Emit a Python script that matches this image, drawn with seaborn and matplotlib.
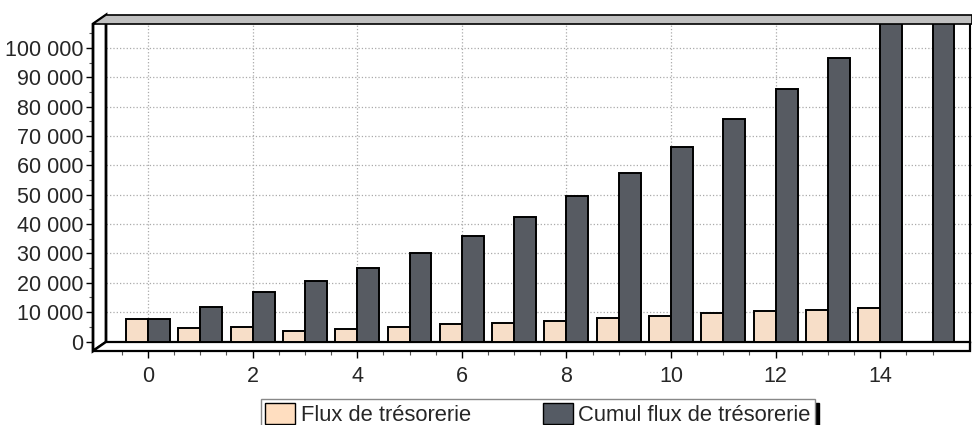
import numpy as np
import pandas as pd
import matplotlib
matplotlib.use("Agg")
import matplotlib.pyplot as plt
import seaborn as sns
from matplotlib.patches import Polygon, Patch
from matplotlib.ticker import FuncFormatter, FixedLocator

sns.set_style("white")
plt.rcParams['font.family'] = ['Liberation Sans', 'DejaVu Sans']

periodes = list(range(16))
flux = [7500, 4500, 4800, 3600, 4300, 5000, 5900, 6400, 7100, 8000,
        8600, 9600, 10300, 10900, 11500, 0]
cumul = [7500, 11900, 17000, 20700, 25000, 30000, 35900, 42400, 49600, 57400,
         66400, 75700, 85900, 96700, 108400, 108400]
series = ["Flux de trésorerie", "Cumul flux de trésorerie"]
couleurs = ["#FFDEC0", "#555B64"]
yticks = list(range(0, 100001, 10000))
xticks = list(range(0, 15, 2))

df = pd.DataFrame({
    "periode": periodes * 2,
    "valeur": flux + cumul,
    "serie": [series[0]] * 16 + [series[1]] * 16,
})

W, H = 972, 425
fig = plt.figure(figsize=(W / 100, H / 100), dpi=100)
ax = fig.add_axes([93 / W, 1 - 351 / H, 879 / W, 336 / H])

sns.barplot(data=df, x="periode", y="valeur", hue="serie", hue_order=series,
            palette=couleurs, width=0.84, gap=0, edgecolor="black",
            linewidth=1.4, ax=ax, legend=False)
for p in ax.patches:
    p.set_zorder(2)

# pixel mapping of the reference: cat 0 at x=148, 52.3 px per category,
# value 0 at y=341.5, 2.935 px per 1000
ax.set_xlim((93 - 148) / 52.3, (972 - 148) / 52.3)
ax.set_ylim(-(351 - 341.5) / 2.935 * 1000, (341.5 - 15) / 2.935 * 1000)

ax.set_xlabel("")
ax.set_ylabel("")
for s in ax.spines.values():
    s.set_visible(False)

ax.yaxis.set_major_locator(FixedLocator(yticks))
ax.yaxis.set_minor_locator(FixedLocator([v + 5000 for v in yticks]))
ax.yaxis.set_major_formatter(FuncFormatter(lambda v, p: f"{int(v):,}".replace(",", " ")))
ax.xaxis.set_major_locator(FixedLocator(xticks))
ax.xaxis.set_minor_locator(FixedLocator([v / 2 for v in range(-1, 31)]))
ax.set_xticklabels([str(t) for t in xticks])
ax.tick_params(axis="both", which="major", labelsize=15.5, length=5, width=1,
               color="black", left=True, bottom=True)
ax.tick_params(axis="y", which="major", pad=2)
ax.tick_params(axis="x", which="major", pad=6)
ax.tick_params(axis="both", which="minor", length=3, width=0.8, color="#555555",
               left=True, bottom=True)

ax.set_axisbelow(True)
ax.grid(True, which="major", color="#AAAAAA", linestyle=":", linewidth=0.9)

def px(pts):
    return [(x / W, 1 - y / H) for x, y in pts]

tf = fig.transFigure
# left wall
ax.add_patch(Polygon(px([(93, 24), (106, 15), (106, 342), (93, 351)]),
                     closed=True, facecolor="white", edgecolor="black",
                     linewidth=2, transform=tf, clip_on=False, zorder=1.5))
# floor
ax.add_patch(Polygon(px([(93, 351), (106, 342), (970, 342), (970, 351)]),
                     closed=True, facecolor="white", edgecolor="black",
                     linewidth=1.6, transform=tf, clip_on=False, zorder=1.5))
# right edge
ax.add_line(plt.Line2D([970 / W, 970 / W], [1 - 24 / H, 1 - 351 / H],
                       color="black", linewidth=1.5, transform=tf, zorder=1.5))
# top band
ax.add_patch(Polygon(px([(93, 24), (106, 15), (972, 15), (972, 24)]),
                     closed=True, facecolor="#C0C0C0", edgecolor="black",
                     linewidth=1.2, transform=tf, clip_on=False, zorder=3))

handles = [Patch(facecolor=c, edgecolor="black", linewidth=1) for c in couleurs]
leg = fig.legend(handles, series, loc="upper left",
                 bbox_to_anchor=(261 / W, 1 - 399 / H), ncol=2, fontsize=15.8,
                 frameon=True, fancybox=False, handlelength=1.35,
                 handleheight=1.1, handletextpad=0.25, columnspacing=3.3,
                 borderpad=0.2, borderaxespad=0,
                 shadow={"color": "black", "alpha": 1, "ox": 3, "oy": -3})
leg.get_frame().set_edgecolor("#888888")
leg.get_frame().set_linewidth(1)

fig.savefig("out.png", dpi=100)
